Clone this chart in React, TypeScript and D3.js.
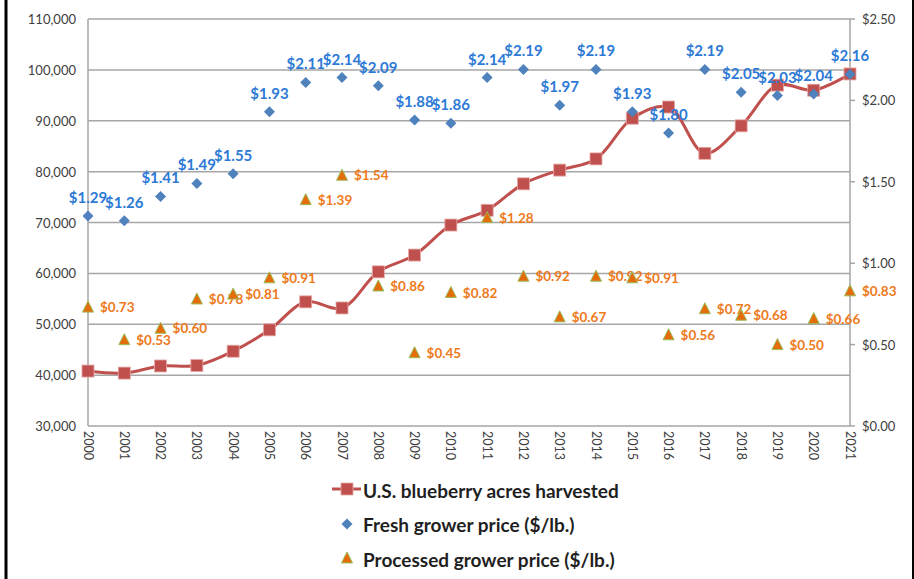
import * as d3 from 'd3'

const years = d3.range(2000, 2022).map(String)
const acres = [40800, 40400, 41800, 41900, 44700, 48900, 54400, 53200, 60300, 63600, 69500,
  72400, 77600, 80300, 82500, 90500, 92700, 83600, 89000, 97000, 96000, 99200]
const freshPrice = [1.29, 1.26, 1.41, 1.49, 1.55, 1.93, 2.11, 2.14, 2.09, 1.88, 1.86,
  2.14, 2.19, 1.97, 2.19, 1.93, 1.80, 2.19, 2.05, 2.03, 2.04, 2.16]
const processedPrice = [0.73, 0.53, 0.60, 0.78, 0.81, 0.91, 1.39, 1.54, 0.86, 0.45, 0.82,
  1.28, 0.92, 0.67, 0.92, 0.91, 0.56, 0.72, 0.68, 0.50, 0.66, 0.83]
const acreTicks = d3.range(30000, 110001, 10000)
const priceTicks = [0, 0.5, 1, 1.5, 2, 2.5]
const legendLabels = [
  'U.S. blueberry acres harvested',
  'Fresh grower price ($/lb.)',
  'Processed grower price ($/lb.)'
]

const W = 914
const H = 579
const plot = { left: 88, right: 850, top: 19, bottom: 426 }
const font = 'Lato, "Open Sans", sans-serif'
const red = '#C0504D'
const blue = '#4F81BD'
const labelBlue = '#2D7AD6'
const orange = '#E46C0A'
const labelOrange = '#EE7A1C'
const green = '#9BBB59'
const grid = '#A6A6A6'
const axisText = '#404040'

const diamond = (cx: number, cy: number, r: number) =>
  `M${cx},${cy - r}L${cx + r},${cy}L${cx},${cy + r}L${cx - r},${cy}Z`
const triangle = (cx: number, cy: number, s: number) =>
  `M${cx},${cy - s * 0.55}L${cx + s / 2},${cy + s * 0.45}L${cx - s / 2},${cy + s * 0.45}Z`

export default function App() {
  const x = d3.scalePoint<string>().domain(years).range([plot.left, plot.right])
  const yL = d3.scaleLinear().domain([30000, 110000]).range([plot.bottom, plot.top])
  const yR = d3.scaleLinear().domain([0, 2.5]).range([plot.bottom, plot.top])
  const fmtAcre = d3.format(',')
  const fmtPrice = (v: number) => '$' + v.toFixed(2)

  const line = d3.line<number>()
    .x((_, i) => x(years[i]) as number)
    .y(d => yL(d))
    .curve(d3.curveCatmullRom.alpha(0.5))

  return (
    <svg width={W} height={H} style={{ position: 'absolute', left: 0, top: 0, background: '#fff' }}
      fontFamily={font}>
      <rect x={0} y={0} width={W} height={H} fill="#fff" />
      <line x1={6} x2={6} y1={0} y2={H} stroke="#000" strokeWidth={3} />
      <line x1={913} x2={913} y1={0} y2={H} stroke="#000" strokeWidth={2} />

      {/* gridlines and left axis */}
      {acreTicks.map(t => (
        <g key={t}>
          <line x1={plot.left} x2={plot.right} y1={yL(t)} y2={yL(t)} stroke={grid} strokeWidth={1.5} />
          <text x={76} y={yL(t)} textAnchor="end" dominantBaseline="central" fontSize={13} fill={axisText}>
            {fmtAcre(t)}
          </text>
        </g>
      ))}
      <line x1={plot.left} x2={plot.left} y1={plot.top} y2={plot.bottom} stroke={grid} strokeWidth={1.5} />
      <line x1={plot.right} x2={plot.right} y1={plot.top} y2={plot.bottom} stroke={grid} strokeWidth={1.5} />

      {/* right axis */}
      {priceTicks.map(t => (
        <g key={t}>
          <line x1={plot.right} x2={plot.right + 5} y1={yR(t)} y2={yR(t)} stroke={grid} strokeWidth={1.5} />
          <text x={862} y={yR(t)} dominantBaseline="central" fontSize={13} fill={axisText}>
            {fmtPrice(t)}
          </text>
        </g>
      ))}

      {/* x axis labels */}
      {years.map(yr => (
        <text key={yr} transform={`translate(${x(yr)},${plot.bottom + 5}) rotate(90)`}
          dominantBaseline="central" fontSize={12.5} fill={axisText}>
          {yr}
        </text>
      ))}

      {/* acres line */}
      <path d={line(acres) || ''} fill="none" stroke={red} strokeWidth={3} />
      {acres.map((v, i) => (
        <rect key={i} x={(x(years[i]) as number) - 6} y={yL(v) - 6} width={12} height={12}
          fill={red} stroke="#E6A9A7" strokeWidth={0.8} />
      ))}

      {/* fresh price */}
      {freshPrice.map((v, i) => (
        <g key={i}>
          <path d={diamond(x(years[i]) as number, yR(v), 5.5)} fill={blue} />
          <text x={x(years[i])} y={yR(v) - 19} textAnchor="middle" dominantBaseline="central"
            fontSize={15} fontWeight="bold" fill={labelBlue}>
            {fmtPrice(v)}
          </text>
        </g>
      ))}

      {/* processed price */}
      {processedPrice.map((v, i) => (
        <g key={i}>
          <path d={triangle(x(years[i]) as number, yR(v), 11)} fill={orange} stroke={green} strokeWidth={1} />
          <text x={(x(years[i]) as number) + 12} y={yR(v)} dominantBaseline="central"
            fontSize={13.5} fontWeight="bold" fill={labelOrange}>
            {fmtPrice(v)}
          </text>
        </g>
      ))}

      {/* legend */}
      <g>
        <line x1={332} x2={361} y1={489} y2={489} stroke={red} strokeWidth={3} />
        <rect x={341} y={483} width={12} height={12} fill={red} stroke="#E6A9A7" strokeWidth={0.8} />
        <path d={diamond(347, 524, 5.5)} fill={blue} />
        <path d={triangle(347, 558, 11)} fill={orange} stroke={green} strokeWidth={1} />
        {legendLabels.map((l, i) => (
          <text key={l} x={363} y={490 + i * 34.5} dominantBaseline="central" fontSize={19}
            fontWeight="bold" fill="#1F1F1F">
            {l}
          </text>
        ))}
      </g>
    </svg>
  )
}
